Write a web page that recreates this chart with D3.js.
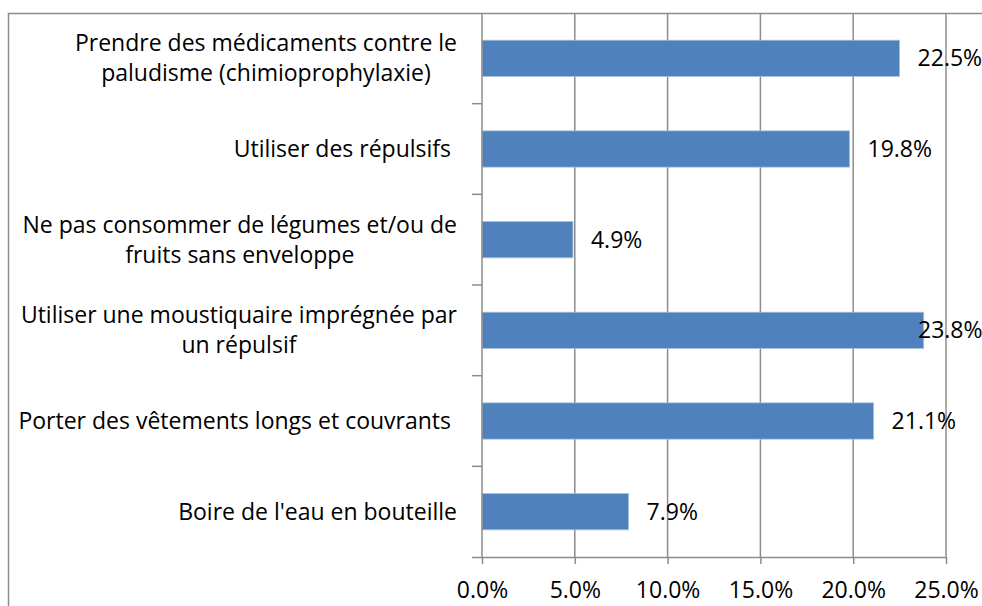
<!DOCTYPE html>
<html><head><meta charset="utf-8">
<script src="https://cdn.jsdelivr.net/npm/d3@7"></script>
<style>body{margin:0;background:#fff}svg{display:block}text{font-family:"Open Sans",sans-serif;fill:#000}</style>
</head><body><svg id="c" width="982" height="606"></svg>
<script>
const categories = [
  ["Prendre des médicaments contre le", "paludisme (chimioprophylaxie)"],
  ["Utiliser des répulsifs "],
  ["Ne pas consommer de légumes et/ou de", "fruits sans enveloppe"],
  ["Utiliser une moustiquaire imprégnée par", "un répulsif"],
  ["Porter des vêtements longs et couvrants "],
  ["Boire de l'eau en bouteille"]
];
const values = [22.5, 19.8, 4.9, 23.8, 21.1, 7.9];
const xTicks = [0, 5, 10, 15, 20, 25];

const svg = d3.select("#c");
const L = 482, R = 946, T = 13, B = 557;
const fs = 23;
const grey = "#8c8c8c";

const x = d3.scaleLinear().domain([0, 25]).range([L, R]);
const y = d3.scaleBand().domain(d3.range(categories.length)).range([T, B]).paddingInner(0.6).paddingOuter(0.3);

// outer border
svg.append("path").attr("d", `M8.5,${606}V13.5H982`).attr("fill", "none").attr("stroke", grey).attr("stroke-width", 1.5);

// gridlines
svg.append("g").selectAll("line").data(xTicks.slice(1)).join("line")
  .attr("x1", d => x(d)).attr("x2", d => x(d)).attr("y1", T).attr("y2", B)
  .attr("stroke", grey).attr("stroke-width", 1.5);

// bars
svg.append("g").selectAll("rect").data(values).join("rect")
  .attr("x", x(0)).attr("y", (d, i) => y(i)).attr("width", d => x(d) - x(0)).attr("height", y.bandwidth())
  .attr("fill", "#4f81bd").attr("stroke", "#a9c0e0").attr("stroke-width", 0.8);

// x axis
const xAxis = d3.axisBottom(x).tickValues(xTicks).tickSize(7).tickFormat(d => d3.format(".1f")(d) + "%");
const gx = svg.append("g").attr("transform", `translate(0,${B})`).call(xAxis);
gx.select(".domain").attr("d", `M${L - 10},0.5H${R}`).attr("stroke", grey).attr("stroke-width", 1.5);
gx.selectAll(".tick line").attr("stroke", grey).attr("stroke-width", 1.5);
gx.selectAll(".tick text").attr("y", 0).attr("dy", 41).attr("font-size", fs).attr("font-family", "Open Sans").attr("fill", "#000");

// y axis line and ticks at band boundaries
svg.append("line").attr("x1", L).attr("x2", L).attr("y1", T).attr("y2", B).attr("stroke", grey).attr("stroke-width", 1.5);
const step = y.step();
svg.append("g").selectAll("line").data(d3.range(1, categories.length)).join("line")
  .attr("x1", L - 10).attr("x2", L).attr("y1", d => T + d * step).attr("y2", d => T + d * step)
  .attr("stroke", grey).attr("stroke-width", 1.5);

// category labels: block right-aligned, lines centered within block
const labelRight = 457;
categories.forEach((lines, i) => {
  const cy = y(i) + y.bandwidth() / 2;
  const g = svg.append("g");
  const texts = lines.map((ln, j) => g.append("text").text(ln).attr("font-size", fs)
    .style("white-space", "pre")
    .attr("y", cy + 8 + (j - (lines.length - 1) / 2) * 30));
  const widths = texts.map(t => t.node().getComputedTextLength());
  const bw = d3.max(widths);
  texts.forEach((t, j) => t.attr("x", labelRight - bw / 2).attr("text-anchor", "middle"));
});

// value labels (kept inside the chart area like the original)
svg.append("g").selectAll("text").data(values).join("text")
  .attr("x", d => Math.min(x(d) + 18, 918)).attr("y", (d, i) => y(i) + y.bandwidth() / 2 + 8)
  .attr("font-size", fs).text(d => d.toFixed(1) + "%");
</script></body></html>
